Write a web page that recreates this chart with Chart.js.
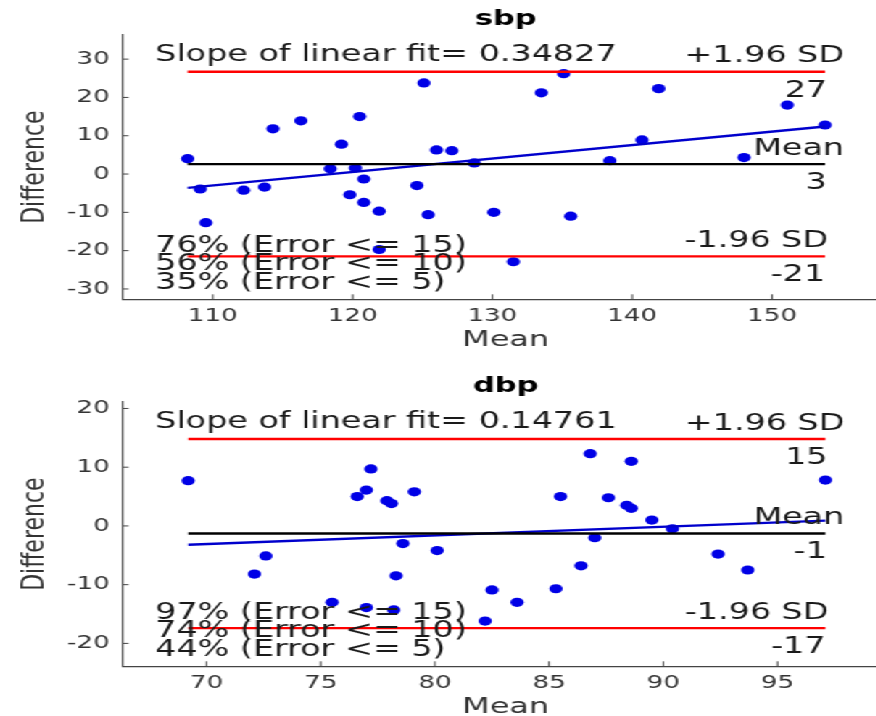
<!DOCTYPE html>
<html>
<head>
<meta charset="utf-8">
<script src="https://cdn.jsdelivr.net/npm/chart.js@4.4.1/dist/chart.umd.min.js"></script>
<style>
  html, body { margin: 0; padding: 0; background: #fff; }
  #frame { width: 876px; height: 716px; overflow: hidden; }
  /* the reference figure is stretched horizontally, so draw narrow and scale */
  #stretch { width: 618px; transform: scaleX(1.45); transform-origin: 0 0; }
  .panel { position: relative; width: 618px; height: 367px; }
</style>
</head>
<body>
<div id="frame"><div id="stretch">
  <div class="panel"><canvas id="chart-sbp"></canvas></div>
  <div class="panel"><canvas id="chart-dbp"></canvas></div>
</div></div>
<script>
// ── Data ───────────────────────────────────────────────────────────────────
const sbpMean = [108.2, 109.1, 109.5, 112.2, 113.7, 114.3, 116.3, 118.4, 119.2, 119.8,
                 120.2, 120.5, 120.8, 120.8, 121.9, 121.9, 124.6, 125.1, 125.4, 126.0,
                 127.1, 128.7, 130.1, 131.5, 133.5, 135.1, 135.6, 138.4, 140.7, 141.9,
                 148.0, 151.1, 153.8];
const sbpDiff = [4.0, -3.9, -12.7, -4.2, -3.4, 11.8, 13.9, 1.4, 7.8, -5.4,
                 1.6, 15.0, -1.3, -7.4, -9.7, -19.7, -3.0, 23.8, -10.6, 6.3,
                 6.1, 2.9, -10.0, -22.9, 21.2, 26.2, -11.0, 3.5, 8.9, 22.3,
                 4.3, 18.0, 12.8];
const sbpLimits = [26.7, 2.6, -21.5];          // +1.96 SD, mean, -1.96 SD
const sbpLimitLabels = ['27', '3', '-21'];
const sbpFit = [-3.6, 12.4];                   // fit line at min / max mean
const sbpSlope = '0.34827';
const sbpErrors = ['76% (Error <= 15)', '56% (Error <= 10)', '35% (Error <= 5)'];

const dbpMean = [69.2, 72.1, 72.6, 75.5, 76.6, 77.0, 77.2, 77.0, 77.9, 78.1,
                 78.2, 78.3, 78.6, 79.1, 80.1, 82.2, 82.5, 83.6, 85.3, 85.5,
                 86.4, 86.8, 87.0, 87.6, 88.4, 88.6, 88.6, 89.5, 90.4, 92.4,
                 93.7, 97.1];
const dbpDiff = [7.7, -8.2, -5.1, -13.0, 5.0, 6.1, 9.7, -13.9, 4.3, 3.8,
                 -14.3, -8.5, -3.0, 5.8, -4.2, -16.2, -10.9, -13.0, -10.7, 5.0,
                 -6.8, 12.3, -2.0, 4.8, 3.5, 3.0, 11.0, 1.0, -0.5, -4.8,
                 -7.5, 7.8];
const dbpLimits = [14.8, -1.3, -17.4];
const dbpLimitLabels = ['15', '-1', '-17'];
const dbpFit = [-3.2, 0.9];
const dbpSlope = '0.14761';
const dbpErrors = ['97% (Error <= 15)', '74% (Error <= 10)', '44% (Error <= 5)'];

// ── Helpers ────────────────────────────────────────────────────────────────
Chart.defaults.font.family = "'DejaVu Sans', sans-serif";

const TEXT = '#1a1a1a';
const AXIS = '#444';

// matlab-style tick marks pointing into the plot
const innerTicks = {
  id: 'innerTicks',
  afterDraw(chart) {
    const { ctx, chartArea: a, scales: { x, y } } = chart;
    ctx.save();
    ctx.strokeStyle = AXIS;
    ctx.lineWidth = 1;
    ctx.beginPath();
    x.ticks.forEach(t => {
      const px = x.getPixelForValue(t.value);
      ctx.moveTo(px, a.bottom); ctx.lineTo(px, a.bottom - 5);
    });
    y.ticks.forEach(t => {
      const py = y.getPixelForValue(t.value);
      ctx.moveTo(a.left, py); ctx.lineTo(a.left + 4.5, py);
    });
    ctx.stroke();
    ctx.restore();
  }
};

// text labels of the Bland-Altman plot
function makeOverlay(spec) {
  return {
    id: 'baText',
    afterDatasetsDraw(chart) {
      const { ctx, chartArea: a, scales: { x, y } } = chart;
      const xe = x.getPixelForValue(Math.max(...spec.mean));
      const [yU, yM, yL] = spec.limits.map(v => y.getPixelForValue(v));
      const put = (txt, px, py, align) => { ctx.textAlign = align; ctx.fillText(txt, px, py); };
      ctx.save();
      ctx.font = "23px 'DejaVu Sans'";
      ctx.fillStyle = TEXT;
      ctx.textBaseline = 'alphabetic';
      put('Slope of linear fit= ' + spec.slope, a.left + 23, a.top + 26, 'left');
      put('+1.96 SD', xe - 97, yU - 9.5, 'left');
      put(spec.limitLabels[0], xe + 1.4, yU + 25, 'right');
      put('Mean', xe + 13, yM - 9.3, 'right');
      put(spec.limitLabels[1], xe + 1, yM + 24.5, 'right');
      put('-1.96 SD', xe - 97, yL - 9, 'left');
      put(spec.limitLabels[2], xe, yL + 24.7, 'right');
      const offs = [47.6, 29.5, 10.8];
      spec.errors.forEach((t, i) => put(t, a.left + 23, a.bottom - offs[i], 'left'));
      ctx.restore();
    }
  };
}

function makeChart(id, spec) {
  const xMin = Math.min(...spec.mean);
  const xMax = Math.max(...spec.mean);
  const hline = v => [{ x: xMin, y: v }, { x: xMax, y: v }];
  const lineDs = (data, color) => ({
    data, showLine: true, borderColor: color, borderWidth: 2.4,
    pointRadius: 0, fill: false, order: 0,
  });

  return new Chart(document.getElementById(id), {
    type: 'scatter',
    data: {
      datasets: [
        lineDs(hline(spec.limits[0]), '#ff0000'),
        lineDs(hline(spec.limits[2]), '#ff0000'),
        lineDs(hline(spec.limits[1]), '#000000'),
        lineDs([{ x: xMin, y: spec.fit[0] }, { x: xMax, y: spec.fit[1] }], '#0000cc'),
        {
          data: spec.mean.map((m, i) => ({ x: m, y: spec.diff[i] })),
          pointRadius: 4.6, pointBackgroundColor: '#0000e6', pointBorderWidth: 0,
          order: 1,
        },
      ],
    },
    options: {
      responsive: true,
      maintainAspectRatio: false,
      animation: false,
      events: [],
      layout: { padding: { top: 7.4, bottom: 13.7, left: 0, right: 0 } },
      plugins: {
        legend: { display: false },
        tooltip: { enabled: false },
        title: {
          display: true, text: spec.title, fullSize: false, color: '#000',
          font: { size: 21, weight: 'bold' }, padding: { top: 0, bottom: 2.4 },
        },
      },
      scales: {
        x: {
          type: 'linear', min: spec.xRange[0], max: spec.xRange[1],
          afterFit: s => { s.height = 54; },
          grid: { display: false, drawTicks: false },
          border: { display: true, color: AXIS, width: 1.2 },
          ticks: { stepSize: spec.xStep, includeBounds: false, padding: 6, maxRotation: 0,
                   color: '#333', font: { size: 18 } },
          title: { display: true, text: 'Mean', color: '#333', font: { size: 22 }, padding: 0 },
        },
        y: {
          type: 'linear', min: spec.yRange[0], max: spec.yRange[1],
          afterFit: s => { s.width = 84.1; },
          grid: { display: false, drawTicks: false },
          border: { display: true, color: AXIS, width: 1.2 },
          ticks: { stepSize: 10, includeBounds: false, padding: 8.5,
                   color: '#333', font: { size: 18 } },
          title: { display: true, text: 'Difference', color: '#333', font: { size: 22 },
                   padding: { top: 11.3, bottom: 0 } },
        },
      },
    },
    plugins: [innerTicks, makeOverlay(spec)],
  });
}

// ── Render ─────────────────────────────────────────────────────────────────
makeChart('chart-sbp', {
  title: 'sbp', mean: sbpMean, diff: sbpDiff, limits: sbpLimits, limitLabels: sbpLimitLabels,
  fit: sbpFit, slope: sbpSlope, errors: sbpErrors,
  xRange: [103.5, 158.4], xStep: 10, yRange: [-32.7, 36.3],
});
makeChart('chart-dbp', {
  title: 'dbp', mean: dbpMean, diff: dbpDiff, limits: dbpLimits, limitLabels: dbpLimitLabels,
  fit: dbpFit, slope: dbpSlope, errors: dbpErrors,
  xRange: [66.3, 99.9], xStep: 5, yRange: [-23.9, 21.1],
});
</script>
</body>
</html>
